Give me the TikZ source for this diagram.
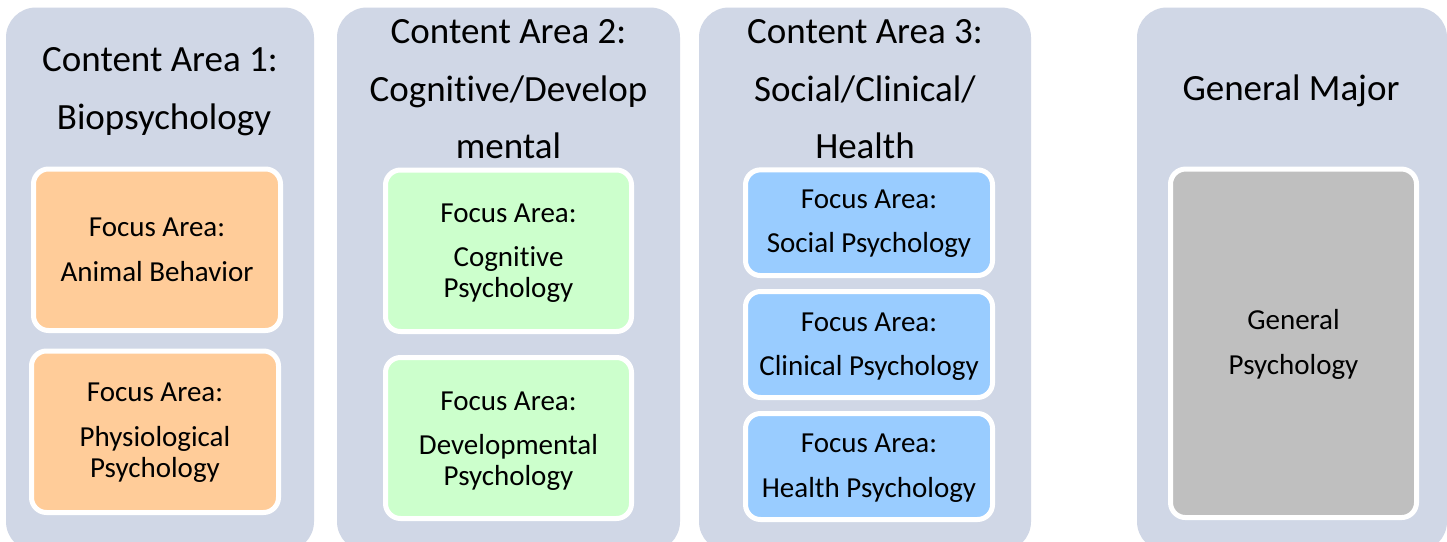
\documentclass[tikz,border=0pt]{standalone}
\usepackage{fontspec}
\setmainfont[Ligatures={NoCommon}]{Carlito}
\definecolor{outerbg}{HTML}{D0D7E6}
\definecolor{orangef}{HTML}{FFCC99}
\definecolor{greenf}{HTML}{CCFFCC}
\definecolor{bluef}{HTML}{99CCFF}
\definecolor{grayf}{HTML}{BFBFBF}
\tikzset{
  area/.style={fill=outerbg, rounded corners=30pt, inner sep=0pt, outer sep=0pt},
  focus/.style={draw=white, line width=5pt, rounded corners=15pt, inner sep=0pt},
  ftext/.style={align=center, inner sep=0pt, anchor=base, font=\fontsize{29}{31}\selectfont},
  title/.style={align=center, font=\fontsize{37}{55}\selectfont, inner sep=0pt, anchor=base}
}
\begin{document}
\begin{tikzpicture}[x=1pt,y=-1pt]
\clip (0,0) rectangle (1447,541);
\fill[white] (0,0) rectangle (1447,541);
% outer areas
\node[area, minimum width=308pt, minimum height=544pt] (a1) at (160,279.5) {};
\node[area, minimum width=343pt, minimum height=544pt] (a2) at (508.5,279.5) {};
\node[area, minimum width=332pt, minimum height=544pt] (a3) at (865,279.5) {};
\node[area, minimum width=310pt, minimum height=544pt] (a4) at (1292,279.5) {};
% titles
\node[title] (t1a) at (160,71) {Content Area 1:};
\node[title] (t1b) at (164,129) {Biopsychology};
\node[title] (t2a) at (508.5,43) {Content Area 2:};
\node[title] (t2b) at (508.5,101) {Cognitive/Develop};
\node[title] (t2c) at (508.5,158) {mental};
\node[title] (t3a) at (865,43) {Content Area 3:};
\node[title] (t3b) at (865,101) {Social/Clinical/};
\node[title] (t3c) at (865,158) {Health};
\node[title] (t4) at (1291,100) {General Major};
% focus boxes
\node[focus, fill=orangef, minimum width=247pt, minimum height=161.5pt] (f11) at (157,249.75) {};
\node[focus, fill=orangef, minimum width=247pt, minimum height=161.5pt] (f12) at (155,431.75) {};
\node[focus, fill=greenf, minimum width=246pt, minimum height=161.5pt] (f21) at (508.5,250.75) {};
\node[focus, fill=greenf, minimum width=246pt, minimum height=161pt] (f22) at (508.5,438) {};
\node[focus, fill=bluef, minimum width=247pt, minimum height=105.7pt] (f31) at (869,222.7) {};
\node[focus, fill=bluef, minimum width=247pt, minimum height=106pt] (f32) at (869,344.5) {};
\node[focus, fill=bluef, minimum width=247pt, minimum height=106pt] (f33) at (869,466.5) {};
\node[focus, fill=grayf, minimum width=246pt, minimum height=348.5pt] (f4) at (1293.5,343.3) {};
% focus texts (placed at the baseline of their last line)
\node[ftext] (f11t) at (157,281) {Focus Area:\\[14pt]Animal Behavior};
\node[ftext] (f12t) at (155,477) {Focus Area:\\[14pt]Physiological\\Psychology};
\node[ftext] (f21t) at (508.5,297) {Focus Area:\\[13pt]Cognitive\\Psychology};
\node[ftext] (f22t) at (508.5,485) {Focus Area:\\[13pt]Developmental\\Psychology};
\node[ftext] (f31t) at (869,252) {Focus Area:\\[13pt]Social Psychology};
\node[ftext] (f32t) at (869,375) {Focus Area:\\[13pt]Clinical Psychology};
\node[ftext] (f33t) at (869,497) {Focus Area:\\[14pt]Health Psychology};
\node[ftext] (f4t) at (1293.5,374) {General\\[14pt]Psychology};
\end{tikzpicture}
\end{document}
